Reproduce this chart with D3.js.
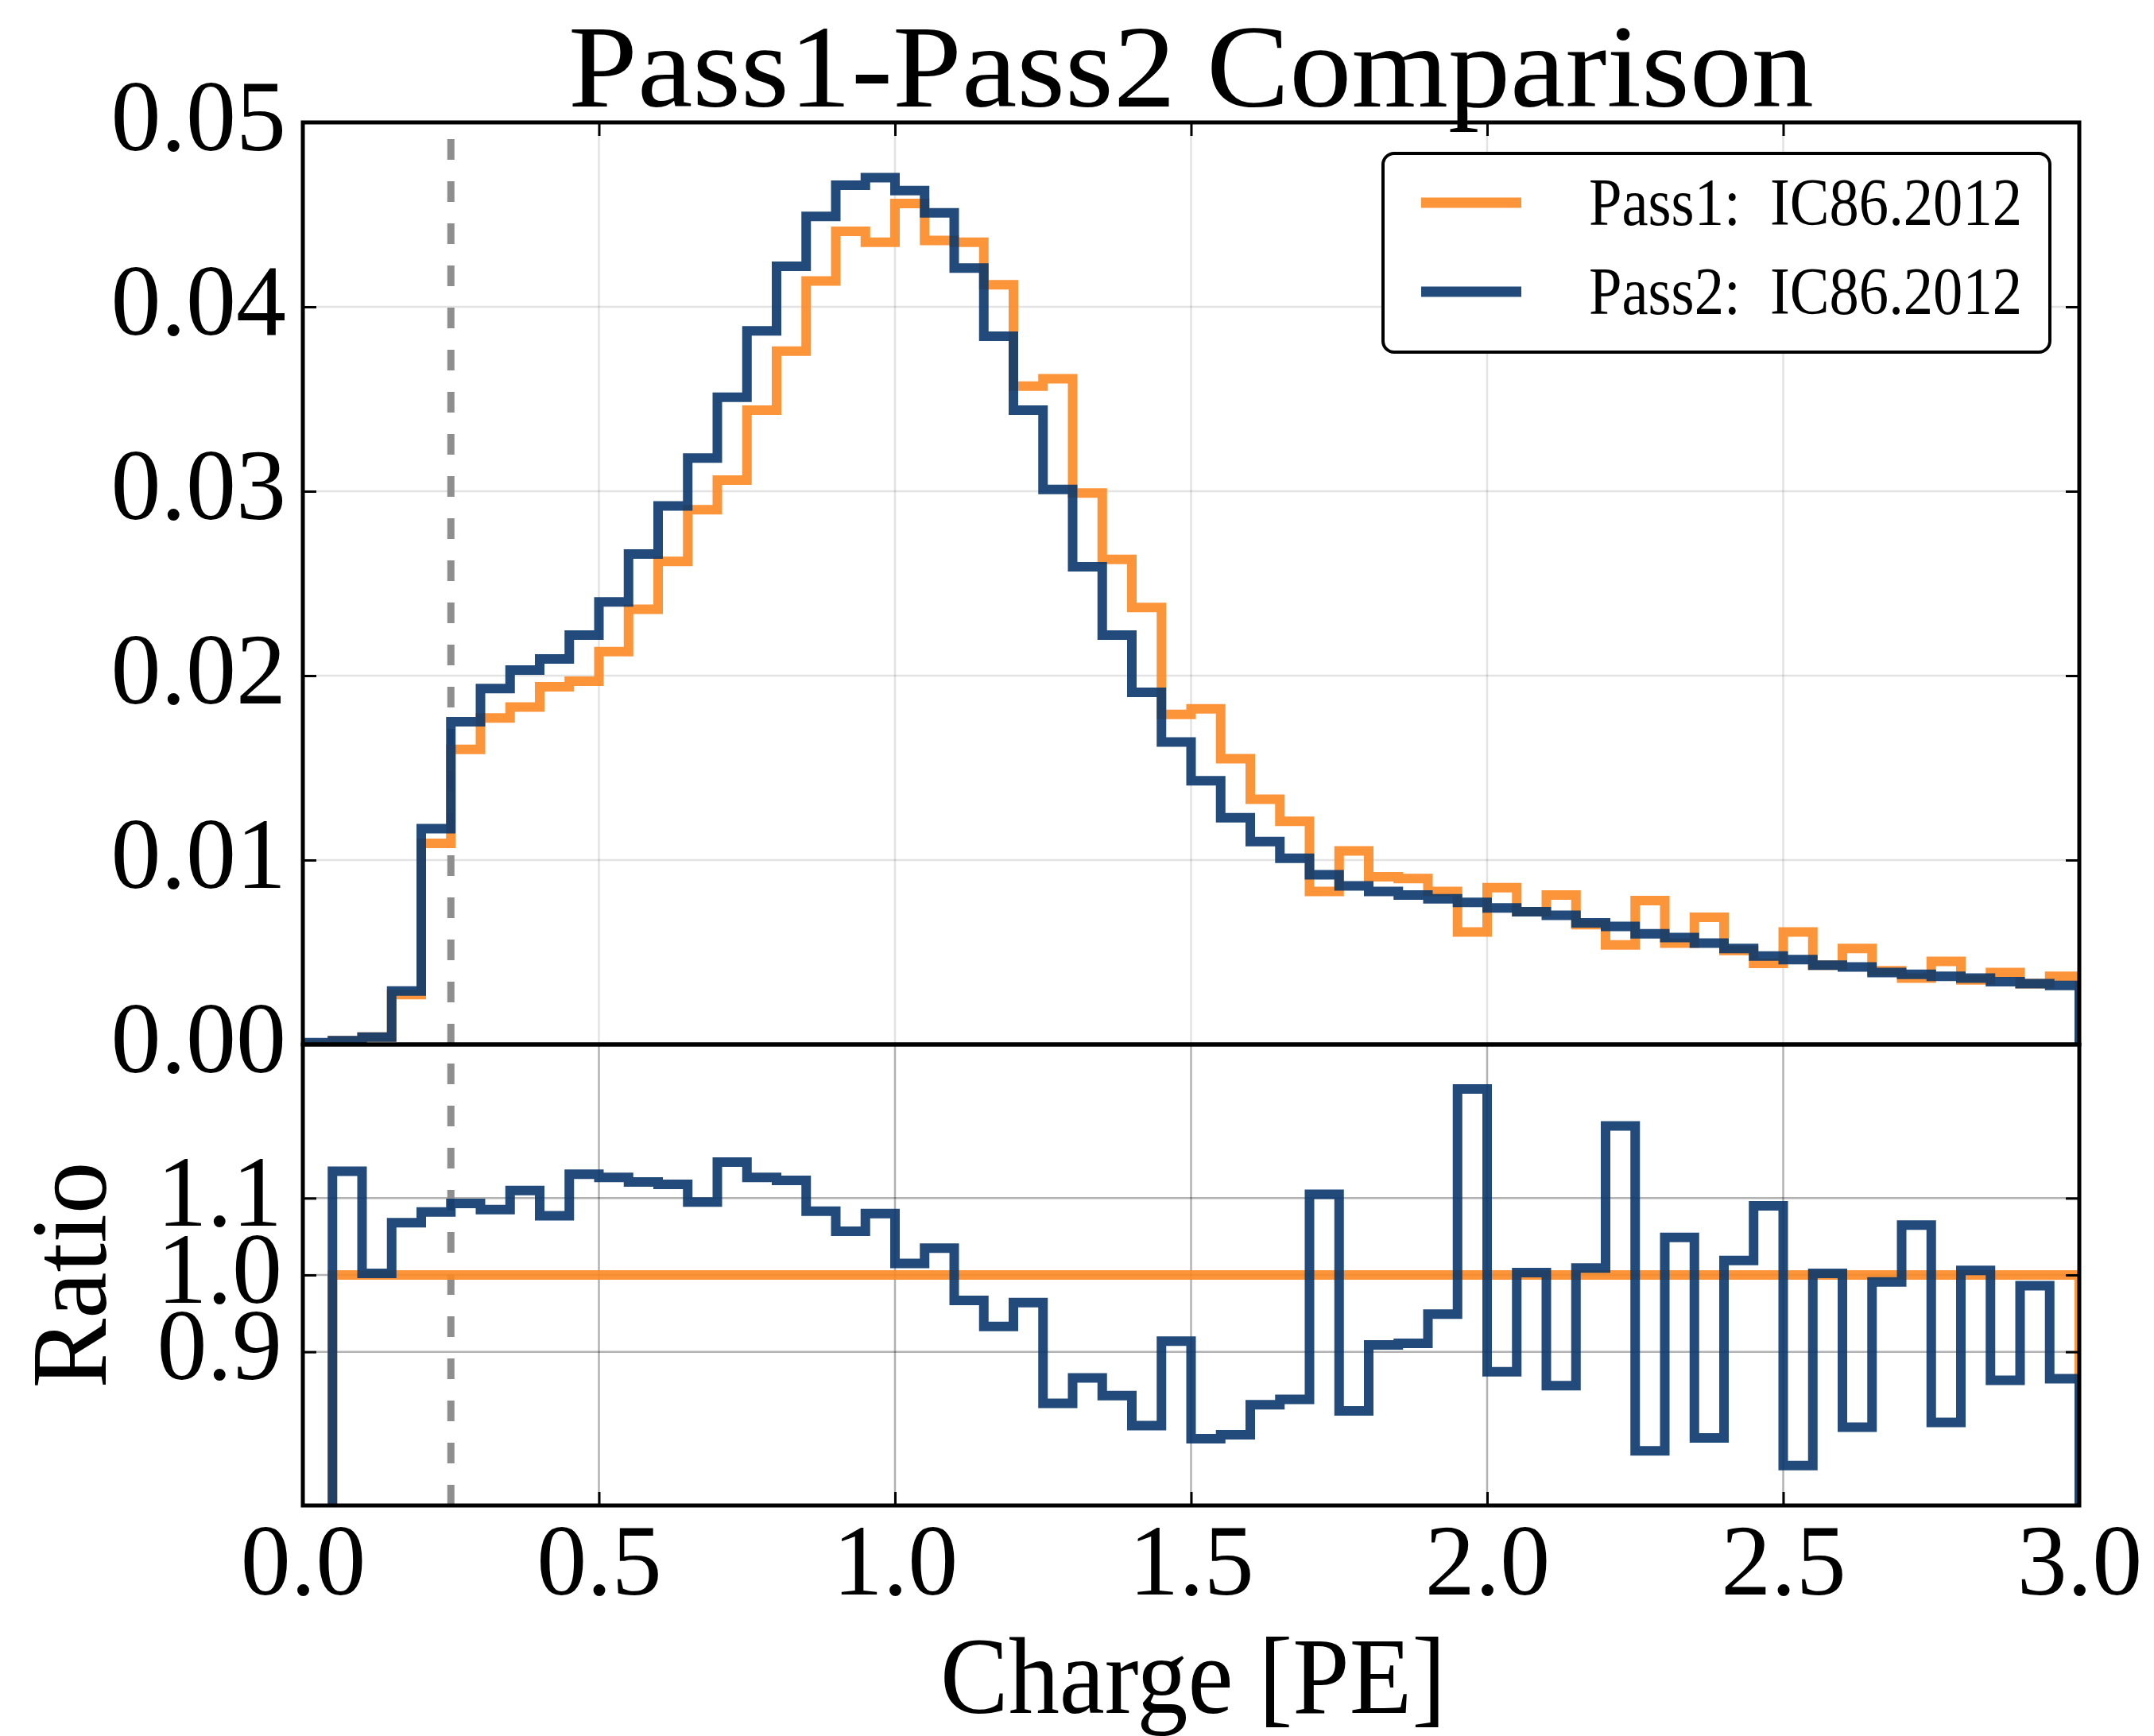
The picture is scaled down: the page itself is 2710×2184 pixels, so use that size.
<!DOCTYPE html>
<html>
<head>
<meta charset="utf-8">
<script src="https://cdn.jsdelivr.net/npm/d3@7"></script>
<style>
  html, body { margin: 0; padding: 0; background: #ffffff; }
  svg { display: block; }
  text { font-family: "Liberation Serif", "DejaVu Serif", serif; fill: #000; }
</style>
</head>
<body>
<script>
// ---------------- data ----------------
const binStart = 0.0, binWidth = 0.05, nBins = 60;

const pass1 = [0.0000, 0.0002, 0.0004, 0.0027, 0.0109, 0.0160, 0.0177, 0.0183, 0.0194, 0.0197,
               0.0213, 0.0236, 0.0262, 0.0290, 0.0306, 0.0344, 0.0376, 0.0414, 0.0441, 0.0435,
               0.0456, 0.0436, 0.0435, 0.0412, 0.0357, 0.0361, 0.0299, 0.0263, 0.0237, 0.0179,
               0.0182, 0.0155, 0.0133, 0.0121, 0.0083, 0.0105, 0.0091, 0.0090, 0.0083, 0.0061,
               0.0085, 0.0072, 0.0081, 0.0065, 0.0054, 0.0078, 0.0055, 0.0069, 0.0051, 0.0044,
               0.0061, 0.0043, 0.0052, 0.0040, 0.0036, 0.0045, 0.0035, 0.0039, 0.0033, 0.0037];

const pass2 = [0.0001, 0.0002, 0.0004, 0.0029, 0.0117, 0.0175, 0.0193, 0.0203, 0.0209, 0.0222,
               0.0240, 0.0266, 0.0292, 0.0318, 0.0351, 0.0387, 0.0422, 0.0449, 0.0466, 0.0470,
               0.0463, 0.0451, 0.0421, 0.0384, 0.0344, 0.0301, 0.0259, 0.0222, 0.0191, 0.0164,
               0.0143, 0.0123, 0.0110, 0.0101, 0.0092, 0.0086, 0.0083, 0.0081, 0.0079, 0.0077,
               0.0074, 0.0072, 0.0070, 0.0066, 0.0064, 0.0060, 0.0058, 0.0055, 0.0052, 0.0048,
               0.0046, 0.0043, 0.0042, 0.0039, 0.0038, 0.0037, 0.0036, 0.0034, 0.0033, 0.0032];

// Pass2 / Pass1 ratio (first bin has no Pass1 entries)
const ratio2 = [null, 1.135, 1.002, 1.068, 1.082, 1.093, 1.085, 1.110, 1.077, 1.131,
                1.127, 1.121, 1.118, 1.095, 1.147, 1.127, 1.123, 1.083, 1.057, 1.080,
                1.015, 1.035, 0.967, 0.933, 0.964, 0.833, 0.866, 0.843, 0.804, 0.914,
                0.787, 0.792, 0.831, 0.838, 1.105, 0.823, 0.909, 0.911, 0.949, 1.242,
                0.874, 1.003, 0.856, 1.009, 1.194, 0.771, 1.049, 0.788, 1.019, 1.090,
                0.752, 1.002, 0.802, 0.991, 1.065, 0.808, 1.006, 0.863, 0.986, 0.865];

// Pass1 / Pass1 reference ratio
const ratio1 = [null, 1, 1, 1, 1, 1, 1, 1, 1, 1,
                1, 1, 1, 1, 1, 1, 1, 1, 1, 1,
                1, 1, 1, 1, 1, 1, 1, 1, 1, 1,
                1, 1, 1, 1, 1, 1, 1, 1, 1, 1,
                1, 1, 1, 1, 1, 1, 1, 1, 1, 1,
                1, 1, 1, 1, 1, 1, 1, 1, 1, 1];

const cutValue = 0.25;

const xTickValues = [0.0, 0.5, 1.0, 1.5, 2.0, 2.5, 3.0];
const xTickLabels = ["0.0", "0.5", "1.0", "1.5", "2.0", "2.5", "3.0"];
const yTickValues = [0.00, 0.01, 0.02, 0.03, 0.04, 0.05];
const yTickLabels = ["0.00", "0.01", "0.02", "0.03", "0.04", "0.05"];
const rTickValues = [0.9, 1.0, 1.1];
const rTickLabels = ["0.9", "1.0", "1.1"];

const seriesNames = ["Pass1: IC86.2012", "Pass2: IC86.2012"];
const titleText = "Pass1-Pass2 Comparison";
const xLabelText = "Charge [PE]";
const rLabelText = "Ratio";

// ---------------- layout ----------------
const W = 2710, H = 2184;
const L = 381, R = 2616, T = 154, MID = 1314, B = 1894;
const C1 = "#fc8823", C2 = "#0a376d", LINE_OP = 0.9, LW = 12;

const edges = d3.range(nBins + 1).map(i => +(binStart + i * binWidth).toFixed(4));

const x = d3.scaleLinear().domain([0, 3]).range([L, R]);
const y = d3.scaleLinear().domain([0, 0.05]).range([MID, T]);
const yr = d3.scaleLinear().domain([0.7, 1.3]).range([B, MID]);

const svg = d3.select("body").append("svg")
  .attr("width", W).attr("height", H)
  .attr("viewBox", `0 0 ${W} ${H}`);
svg.append("rect").attr("width", W).attr("height", H).attr("fill", "#fff");

const defs = svg.append("defs");
defs.append("clipPath").attr("id", "clipMain")
  .append("rect").attr("x", L).attr("y", T).attr("width", R - L).attr("height", MID - T);
defs.append("clipPath").attr("id", "clipRatio")
  .append("rect").attr("x", L).attr("y", MID).attr("width", R - L).attr("height", B - MID);

// step points in the style of a histogram outline
function stepPoints(vals, baseline) {
  let k = vals.findIndex(v => v !== null);
  const pts = [[edges[k], baseline]];
  for (let i = k; i < vals.length; i++) pts.push([edges[i], vals[i]]);
  pts.push([edges[vals.length], vals[vals.length - 1]]);
  pts.push([edges[vals.length], baseline]);
  return pts;
}

// ---------------- main panel ----------------
const gMain = svg.append("g");
// grid
gMain.append("g").selectAll("line").data(yTickValues.slice(1, -1)).join("line")
  .attr("x1", L).attr("x2", R).attr("y1", d => y(d)).attr("y2", d => y(d))
  .attr("stroke", "#000").attr("stroke-opacity", 0.11).attr("stroke-width", 2.5);
gMain.append("g").selectAll("line").data(xTickValues.slice(1, -1)).join("line")
  .attr("x1", d => x(d)).attr("x2", d => x(d)).attr("y1", T).attr("y2", MID)
  .attr("stroke", "#000").attr("stroke-opacity", 0.11).attr("stroke-width", 2.5);

// cut line
gMain.append("line")
  .attr("x1", x(cutValue)).attr("x2", x(cutValue)).attr("y1", MID).attr("y2", T)
  .attr("stroke", "#8e8e8e").attr("stroke-width", 9).attr("stroke-dasharray", "26 27");

const lineMain = d3.line().x(d => x(d[0])).y(d => y(d[1])).curve(d3.curveStepAfter);
const histG = gMain.append("g").attr("clip-path", "url(#clipMain)");
[[pass1, C1], [pass2, C2]].forEach(([vals, col]) => {
  histG.append("path")
    .attr("d", lineMain(stepPoints(vals, 0)))
    .attr("fill", "none").attr("stroke", col).attr("stroke-width", LW)
    .attr("stroke-opacity", LINE_OP).attr("stroke-linejoin", "miter");
});

// ---------------- ratio panel ----------------
const gRat = svg.append("g");
gRat.append("g").selectAll("line").data(rTickValues).join("line")
  .attr("x1", L).attr("x2", R).attr("y1", d => yr(d)).attr("y2", d => yr(d))
  .attr("stroke", "#000").attr("stroke-opacity", 0.3).attr("stroke-width", 2.5);
gRat.append("g").selectAll("line").data(xTickValues.slice(1, -1)).join("line")
  .attr("x1", d => x(d)).attr("x2", d => x(d)).attr("y1", MID).attr("y2", B)
  .attr("stroke", "#000").attr("stroke-opacity", 0.3).attr("stroke-width", 2.5);

gRat.append("line")
  .attr("x1", x(cutValue)).attr("x2", x(cutValue)).attr("y1", B).attr("y2", MID)
  .attr("stroke", "#8e8e8e").attr("stroke-width", 9).attr("stroke-dasharray", "26 27");

const lineRat = d3.line().x(d => x(d[0])).y(d => yr(d[1])).curve(d3.curveStepAfter);
const ratG = gRat.append("g").attr("clip-path", "url(#clipRatio)");
[[ratio1, C1], [ratio2, C2]].forEach(([vals, col]) => {
  ratG.append("path")
    .attr("d", lineRat(stepPoints(vals, 0)))
    .attr("fill", "none").attr("stroke", col).attr("stroke-width", LW)
    .attr("stroke-opacity", LINE_OP).attr("stroke-linejoin", "miter");
});

// ---------------- axes (ticks inward) ----------------
const TICK = 17, FS = 126;
function styleAxis(g) {
  g.select(".domain").remove();
  g.selectAll(".tick line").attr("stroke", "#000").attr("stroke-width", 3);
  g.selectAll(".tick text").attr("font-size", FS)
    .attr("font-family", '"Liberation Serif", "DejaVu Serif", serif');
}

// main left
svg.append("g").attr("transform", `translate(${L},0)`)
  .call(d3.axisLeft(y).tickValues(yTickValues).tickSize(-TICK).tickPadding(21)
        .tickFormat((d, i) => yTickLabels[i]))
  .call(styleAxis)
  .call(g => g.selectAll(".tick text").attr("dy", "0.27em"));
// main right
svg.append("g").attr("transform", `translate(${R},0)`)
  .call(d3.axisRight(y).tickValues(yTickValues).tickSize(-TICK).tickFormat(""))
  .call(styleAxis);
// main top
svg.append("g").attr("transform", `translate(0,${T})`)
  .call(d3.axisTop(x).tickValues(xTickValues).tickSize(-TICK).tickFormat(""))
  .call(styleAxis);
// ratio left
svg.append("g").attr("transform", `translate(${L},0)`)
  .call(d3.axisLeft(yr).tickValues(rTickValues).tickSize(-TICK).tickPadding(26)
        .tickFormat((d, i) => rTickLabels[i]))
  .call(styleAxis)
  .call(g => g.selectAll(".tick text").attr("dy", "0.27em"));
// ratio right
svg.append("g").attr("transform", `translate(${R},0)`)
  .call(d3.axisRight(yr).tickValues(rTickValues).tickSize(-TICK).tickFormat(""))
  .call(styleAxis);
// ratio bottom
svg.append("g").attr("transform", `translate(0,${B})`)
  .call(d3.axisBottom(x).tickValues(xTickValues).tickSize(-TICK).tickPadding(0)
        .tickFormat((d, i) => xTickLabels[i]))
  .call(styleAxis)
  .call(g => g.selectAll(".tick text").attr("dy", null).attr("y", 112));

// spines
svg.append("rect").attr("x", L).attr("y", T).attr("width", R - L).attr("height", MID - T)
  .attr("fill", "none").attr("stroke", "#000").attr("stroke-width", 5);
svg.append("rect").attr("x", L).attr("y", MID).attr("width", R - L).attr("height", B - MID)
  .attr("fill", "none").attr("stroke", "#000").attr("stroke-width", 5);

// ---------------- texts ----------------
svg.append("text").attr("x", (L + R) / 2).attr("y", 134)
  .attr("text-anchor", "middle").attr("font-size", 148)
  .attr("textLength", 1567).attr("lengthAdjust", "spacingAndGlyphs")
  .text(titleText);

svg.append("text").attr("x", 1501).attr("y", 2155)
  .attr("text-anchor", "middle").attr("font-size", 138)
  .attr("textLength", 636).attr("lengthAdjust", "spacingAndGlyphs")
  .text(xLabelText);

svg.append("text").attr("transform", `translate(133,${(MID + B) / 2}) rotate(-90)`)
  .attr("text-anchor", "middle").attr("font-size", 136)
  .attr("textLength", 285).attr("lengthAdjust", "spacingAndGlyphs")
  .text(rLabelText);

// ---------------- legend ----------------
const lg = svg.append("g");
lg.append("rect").attr("x", 1740).attr("y", 193).attr("width", 839).attr("height", 250)
  .attr("rx", 14).attr("ry", 14)
  .attr("fill", "#fff").attr("stroke", "#000").attr("stroke-width", 4);
const legY = [255, 367];
[C1, C2].forEach((col, i) => {
  lg.append("line").attr("x1", 1788).attr("x2", 1914).attr("y1", legY[i]).attr("y2", legY[i])
    .attr("stroke", col).attr("stroke-width", 13).attr("stroke-opacity", LINE_OP);
  lg.append("text").attr("x", 1999).attr("y", legY[i] + 28)
    .attr("font-size", 84)
    .attr("textLength", 545).attr("lengthAdjust", "spacingAndGlyphs")
    .style("white-space", "pre")
    .text(seriesNames[i].replace(": ", ":\u00a0 "));
});
</script>
</body>
</html>
